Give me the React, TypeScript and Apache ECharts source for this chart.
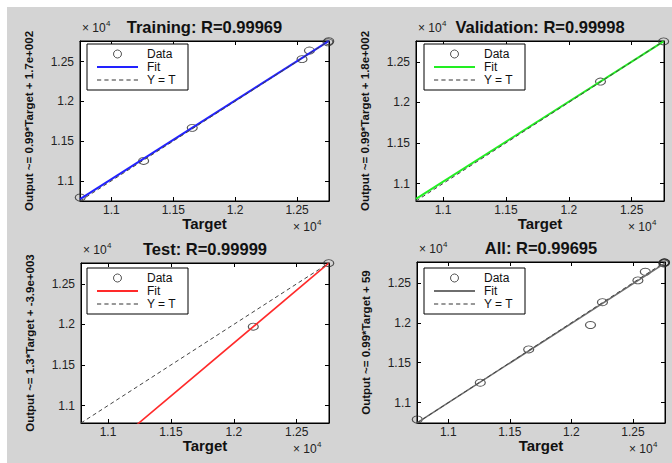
import React, { useEffect, useRef } from 'react';
import * as echarts from 'echarts';

// ---- data (units: raw values; axis labels shown in x 10^4) ----
const tickValues = [11000, 11500, 12000, 12500];

const trainingTarget = [10748, 11260, 11653, 12540, 12600, 12750, 12756];
const trainingOutput = [10790, 11250, 11666, 12530, 12638, 12742, 12756];
const validationTarget = [12252, 12754];
const validationOutput = [12257, 12752];
const testTarget = [12155, 12755];
const testOutput = [11972, 12755];

const panelNames = ['Training', 'Validation', 'Test', 'All'];
const rValues = ['0.99969', '0.99998', '0.99999', '0.99695'];
const yLabels = [
  'Output ~= 0.99*Target + 1.7e+002',
  'Output ~= 0.99*Target + 1.8e+002',
  'Output ~= 1.3*Target + -3.9e+003',
  'Output ~= 0.99*Target + 59',
];
const axisMin = [10746, 10785, 10785, 10746];
const axisMax = [12758, 12757, 12757, 12760];

// ---- styling / layout ----
const fitColors = ['#2222ff', '#22ee22', '#ff2a2a', '#6e6e6e'];
const fitWidths = [2, 2, 1.6, 1.5];
const layout = [
  { left: 80, top: 41, width: 249, height: 160, legendLeft: 87, legendTop: 44 },
  { left: 416, top: 41, width: 248, height: 160, legendLeft: 424, legendTop: 44 },
  { left: 81, top: 263, width: 248, height: 160, legendLeft: 87, legendTop: 268 },
  { left: 417, top: 262, width: 248, height: 161, legendLeft: 424, legendTop: 268 },
];
const FONT = '"Liberation Sans", Arial, Helvetica, sans-serif';
const SOLID_ICON_THICK = 'path://M0,0H41V2H0Z';
const DASH_ICON = 'path://M0,0H4V1H0Z M7,0H11V1H7Z M14,0H18V1H14Z M21,0H25V1H21Z M28,0H32V1H28Z M35,0H39V1H35Z';

function linFit(t: number[], y: number[]) {
  const n = t.length;
  const mt = t.reduce((a, b) => a + b, 0) / n;
  const my = y.reduce((a, b) => a + b, 0) / n;
  let sxy = 0;
  let sxx = 0;
  for (let k = 0; k < n; k++) {
    sxy += (t[k] - mt) * (y[k] - my);
    sxx += (t[k] - mt) * (t[k] - mt);
  }
  const s = sxy / sxx;
  return { s, b: my - s * mt };
}

function buildOption() {
  const allTarget = [...trainingTarget, ...validationTarget, ...testTarget];
  const allOutput = [...trainingOutput, ...validationOutput, ...testOutput];
  const panelData = [
    { t: trainingTarget, y: trainingOutput },
    { t: validationTarget, y: validationOutput },
    { t: testTarget, y: testOutput },
    { t: allTarget, y: allOutput },
  ];
  const fmt = (v: number) => String(Math.round(v) / 10000);

  const grids: any[] = [];
  const xAxes: any[] = [];
  const yAxes: any[] = [];
  const series: any[] = [];
  const legends: any[] = [];
  const graphics: any[] = [];

  panelData.forEach((pd, i) => {
    const L = layout[i];
    const lo = axisMin[i];
    const hi = axisMax[i];
    grids.push({
      left: L.left, top: L.top, width: L.width, height: L.height,
      show: true, backgroundColor: '#fff', borderColor: '#000', borderWidth: 1,
      containLabel: false, outerBoundsMode: 'none',
    });
    const base = {
      type: 'value', gridIndex: i, min: lo, max: hi,
      splitLine: { show: false },
      axisLine: { show: true, onZero: false, lineStyle: { color: '#000', width: 1 } },
      axisTick: { show: true, inside: true, length: 4, customValues: tickValues, lineStyle: { color: '#000', width: 1 } },
    };
    const lbl = { customValues: tickValues, formatter: fmt, fontSize: 12, color: '#222', fontFamily: FONT };
    xAxes.push({ ...base, position: 'bottom', axisLabel: { ...lbl, margin: 3 } });
    xAxes.push({ ...base, position: 'top', axisLabel: { show: false } });
    yAxes.push({ ...base, position: 'left', axisLabel: { ...lbl, margin: 6 } });
    yAxes.push({ ...base, position: 'right', axisLabel: { show: false } });

    const f = linFit(pd.t, pd.y);
    series.push({
      type: 'scatter', name: `Data#${i}`, xAxisIndex: 2 * i, yAxisIndex: 2 * i,
      data: pd.t.map((t, k) => [t, pd.y[k]]),
      symbol: 'circle', symbolSize: [10, 7], clip: false, silent: true,
      itemStyle: { color: 'rgba(0,0,0,0)', borderColor: '#2a2a2a', borderWidth: 1 },
    });
    series.push({
      type: 'line', name: `Fit#${i}`, xAxisIndex: 2 * i, yAxisIndex: 2 * i,
      data: [[lo, f.s * lo + f.b], [hi, f.s * hi + f.b]],
      symbol: 'none', showSymbol: false, silent: true, clip: true,
      lineStyle: { color: fitColors[i], width: fitWidths[i] },
      itemStyle: { color: fitColors[i] },
    });
    series.push({
      type: 'line', name: `Y = T#${i}`, xAxisIndex: 2 * i, yAxisIndex: 2 * i,
      data: [[lo, lo], [hi, hi]],
      symbol: 'none', showSymbol: false, silent: true, clip: true,
      lineStyle: { color: '#444', width: 1, type: [4, 3] },
      itemStyle: { color: '#444' },
    });

    legends.push({
      orient: 'vertical', left: L.legendLeft, top: L.legendTop,
      data: [
        { name: `Data#${i}`, icon: 'circle', itemStyle: { color: 'rgba(0,0,0,0)', borderColor: '#2a2a2a', borderWidth: 1 } },
        { name: `Fit#${i}`, icon: SOLID_ICON_THICK, itemStyle: { color: fitColors[i], borderWidth: 0 } },
        { name: `Y = T#${i}`, icon: DASH_ICON, itemStyle: { color: '#333', borderWidth: 0 } },
      ],
      formatter: (n: string) => n.split('#')[0],
      itemWidth: 41, itemHeight: 8, itemGap: 1, selectedMode: false,
      backgroundColor: '#fff', borderColor: '#000', borderWidth: 1, borderRadius: 0,
      padding: [4, 12, 4, 10],
      textStyle: { fontSize: 12, lineHeight: 12, color: '#111', fontFamily: FONT, padding: [0, 0, 0, 4] },
    });

    const cx = L.left + L.width / 2;
    // exponent labels
    graphics.push({ type: 'text', x: L.left + 2, y: L.top - 13, style: { text: '× 10', fontSize: 12, fontFamily: FONT, fill: '#222', textAlign: 'left', textVerticalAlign: 'middle' } });
    graphics.push({ type: 'text', x: L.left + 26, y: L.top - 18, style: { text: '4', fontSize: 8, fontFamily: FONT, fill: '#222', textAlign: 'left', textVerticalAlign: 'middle' } });
    graphics.push({ type: 'text', x: L.left + L.width - 36, y: L.top + L.height + 26, style: { text: '× 10', fontSize: 12, fontFamily: FONT, fill: '#222', textAlign: 'left', textVerticalAlign: 'middle' } });
    graphics.push({ type: 'text', x: L.left + L.width - 12, y: L.top + L.height + 21, style: { text: '4', fontSize: 8, fontFamily: FONT, fill: '#222', textAlign: 'left', textVerticalAlign: 'middle' } });
    // title
    graphics.push({ type: 'text', x: cx, y: L.top - 14, style: { text: `${panelNames[i]}: R=${rValues[i]}`, fontSize: 16.5, fontWeight: 'bold', fontFamily: FONT, fill: '#111', textAlign: 'center', textVerticalAlign: 'middle' } });
    // x label
    graphics.push({ type: 'text', x: cx, y: L.top + L.height + 22, style: { text: 'Target', fontSize: 15, fontWeight: 'bold', fontFamily: FONT, fill: '#111', textAlign: 'center', textVerticalAlign: 'middle' } });
    // y label
    graphics.push({ type: 'text', x: L.left - 51, y: L.top + L.height / 2, rotation: Math.PI / 2, style: { text: yLabels[i], fontSize: 11.5, fontWeight: 'bold', fontFamily: FONT, fill: '#111', textAlign: 'center', textVerticalAlign: 'middle' } });
  });

  return {
    animation: false,
    backgroundColor: 'transparent',
    grid: grids,
    xAxis: xAxes,
    yAxis: yAxes,
    legend: legends,
    series,
    graphic: graphics,
  };
}

export default function App() {
  const ref = useRef<HTMLDivElement>(null);
  useEffect(() => {
    const chart = echarts.init(ref.current!, undefined, { renderer: 'svg' });
    chart.setOption(buildOption() as any);
    return () => chart.dispose();
  }, []);
  return (
    <div style={{ position: 'fixed', left: 0, top: 0, width: 672, height: 463, background: '#fff', overflow: 'hidden' }}>
      <div style={{ position: 'absolute', left: 7, top: 7, right: 0, bottom: 0, background: '#d4d4d4' }} />
      <div ref={ref} style={{ position: 'absolute', left: 0, top: 0, width: 672, height: 463 }} />
    </div>
  );
}
